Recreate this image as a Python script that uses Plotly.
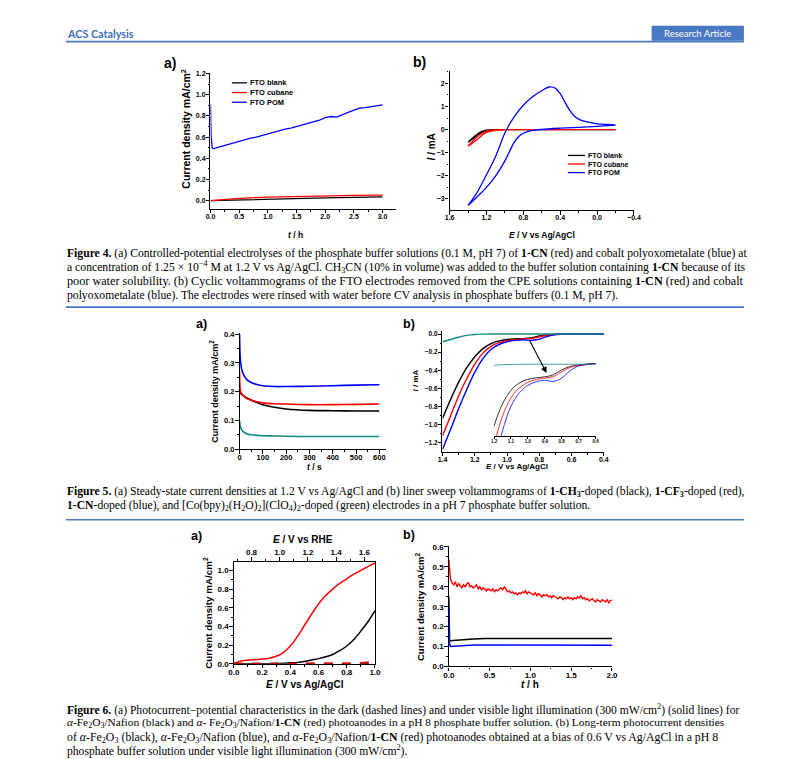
import numpy as np
import plotly.graph_objects as go

W, H = 810, 759

# ---------------- Figure 4a data ----------------
t4a_lin = [0.0, 0.5, 1.0, 1.5, 2.0, 2.5, 3.0]
fto_blank_4a = [0.0, 0.008, 0.015, 0.021, 0.027, 0.032, 0.037]
fto_cubane_4a = [0.0, 0.022, 0.034, 0.041, 0.046, 0.050, 0.053]
t4a_pom = [0.0, 0.01, 0.03, 0.06, 0.1, 0.2, 0.3, 0.4, 0.5, 0.6, 0.7, 0.8, 0.9, 1.0, 1.1, 1.2,
           1.3, 1.4, 1.5, 1.6, 1.7, 1.8, 1.9, 2.0, 2.1, 2.2, 2.3, 2.4, 2.5, 2.6, 2.7, 2.8, 2.9, 3.0]
fto_pom_4a = [0.91, 0.62, 0.50, 0.49, 0.50, 0.515, 0.53, 0.55, 0.565, 0.575, 0.59, 0.60, 0.615,
              0.635, 0.645, 0.66, 0.675, 0.685, 0.70, 0.715, 0.73, 0.745, 0.76, 0.785, 0.795,
              0.79, 0.815, 0.835, 0.855, 0.875, 0.88, 0.89, 0.895, 0.905]
legend_4 = ["FTO blank", "FTO cubane", "FTO POM"]

# ---------------- Figure 4b data (CV) ----------------
E4b_fwd = [-0.2, 0.0, 0.4, 0.8, 1.0, 1.1, 1.2, 1.25, 1.3, 1.35, 1.4]
E4b_rev = [1.4, 1.35, 1.3, 1.25, 1.2, 1.1, 1.0, 0.8, 0.4, 0.0, -0.2]
blank_4b_fwd = [0.0, 0.0, 0.0, 0.0, 0.0, 0.0, -0.02, -0.08, -0.2, -0.36, -0.55]
blank_4b_rev = [-0.55, -0.40, -0.25, -0.12, -0.04, -0.01, 0.0, 0.0, 0.0, 0.0, 0.0]
cubane_4b_fwd = [0.0, 0.0, 0.0, 0.0, 0.0, -0.01, -0.06, -0.16, -0.30, -0.50, -0.72]
cubane_4b_rev = [-0.72, -0.58, -0.42, -0.25, -0.12, -0.03, -0.005, 0.0, 0.0, 0.0, 0.0]
E4b_pom_fwd = [-0.2, 0.0, 0.2, 0.4, 0.6, 0.7, 0.75, 0.8, 0.85, 0.9, 0.95, 1.0, 1.1, 1.2, 1.3, 1.4]
pom_4b_fwd = [0.19, 0.14, 0.10, 0.06, 0.01, -0.03, -0.08, -0.16, -0.30, -0.55, -0.95, -1.35,
              -2.0, -2.5, -2.9, -3.28]
E4b_pom_rev = [1.4, 1.3, 1.2, 1.1, 1.0, 0.9, 0.8, 0.7, 0.6, 0.52, 0.45, 0.4, 0.35, 0.3, 0.25,
               0.2, 0.1, 0.0, -0.1, -0.2]
pom_4b_rev = [-3.28, -2.7, -1.95, -1.15, -0.15, 0.55, 1.05, 1.42, 1.68, 1.84, 1.78, 1.55, 1.2,
              0.85, 0.6, 0.45, 0.32, 0.25, 0.22, 0.2]

# ---------------- Figure 5a data ----------------
t5a = [0, 2, 5, 10, 20, 30, 50, 75, 100, 150, 200, 300, 400, 500, 600]
ch3_5a = [0.20, 0.197, 0.194, 0.19, 0.184, 0.179, 0.171, 0.162, 0.155, 0.146, 0.140, 0.135, 0.134, 0.133, 0.133]
cf3_5a = [0.27, 0.215, 0.20, 0.192, 0.183, 0.177, 0.170, 0.165, 0.161, 0.158, 0.157, 0.155, 0.155, 0.156, 0.157]
cn_5a = [0.40, 0.33, 0.30, 0.275, 0.255, 0.243, 0.232, 0.225, 0.221, 0.218, 0.218, 0.219, 0.221, 0.223, 0.224]
co_5a = [0.10, 0.085, 0.075, 0.066, 0.058, 0.054, 0.050, 0.048, 0.047, 0.046, 0.045, 0.044, 0.044, 0.044, 0.044]

# ---------------- Figure 5b data (LSV) ----------------
E5b = [1.40, 1.35, 1.30, 1.25, 1.20, 1.15, 1.10, 1.05, 1.00, 0.95, 0.90, 0.85, 0.80, 0.75,
       0.70, 0.65, 0.60, 0.50, 0.40]
ch3_5b = [-0.93, -0.72, -0.53, -0.37, -0.25, -0.16, -0.105, -0.075, -0.06, -0.054, -0.05,
          -0.042, -0.022, -0.008, -0.002, 0.002, 0.004, 0.004, 0.004]
cf3_5b = [-1.12, -0.90, -0.68, -0.49, -0.33, -0.21, -0.135, -0.095, -0.072, -0.061, -0.055,
          -0.049, -0.03, -0.012, -0.004, 0.0, 0.004, 0.004, 0.004]
cn_5b = [-1.27, -1.05, -0.82, -0.61, -0.42, -0.27, -0.17, -0.115, -0.085, -0.07, -0.064,
         -0.069, -0.055, -0.025, -0.006, 0.0, 0.004, 0.004, 0.004]
E5b_co = [1.40, 1.35, 1.30, 1.25, 1.20, 1.10, 0.40]
co_5b = [-0.085, -0.06, -0.035, -0.014, -0.004, 0.0, 0.0]

# ---------------- Figure 6a data ----------------
E6a = [0.0, 0.05, 0.1, 0.15, 0.2, 0.25, 0.3, 0.35, 0.4, 0.45, 0.5, 0.55, 0.6, 0.65, 0.7,
       0.75, 0.8, 0.85, 0.9, 0.95, 1.0]
cn_light_6a = [0.0, 0.03, 0.04, 0.045, 0.05, 0.06, 0.08, 0.12, 0.19, 0.29, 0.41, 0.53, 0.64,
               0.73, 0.80, 0.86, 0.91, 0.96, 1.00, 1.04, 1.08]
naf_light_6a = [0.0, 0.0, 0.0, 0.0, 0.0, 0.0, 0.002, 0.005, 0.01, 0.015, 0.025, 0.04, 0.055,
                0.075, 0.10, 0.14, 0.19, 0.26, 0.35, 0.45, 0.57]
cn_dark_6a = [0.0, 0.0, 0.0, 0.0, 0.0, 0.0, 0.0, 0.0, 0.0, 0.0, 0.0, 0.0, 0.0, 0.0, 0.0, 0.0,
              0.002, 0.005, 0.01, 0.02, 0.025]
naf_dark_6a = [0.002] * 21
rhe_offset = 0.675

# ---------------- Figure 6b data ----------------
t6b_red = np.linspace(0, 2, 101)
cn_6b = [0.54, 0.44, 0.42, 0.41, 0.425, 0.40, 0.415, 0.405, 0.395, 0.41, 0.40, 0.415, 0.42,
         0.40, 0.405, 0.395, 0.40, 0.41, 0.39, 0.40, 0.385, 0.395, 0.39, 0.38, 0.39, 0.385,
         0.38, 0.39, 0.375, 0.385, 0.38, 0.39, 0.395, 0.385, 0.40, 0.39, 0.375, 0.38, 0.37,
         0.375, 0.365, 0.37, 0.36, 0.37, 0.365, 0.375, 0.37, 0.38, 0.365, 0.375, 0.37, 0.365,
         0.36, 0.37, 0.355, 0.365, 0.36, 0.35, 0.36, 0.355, 0.36, 0.35, 0.355, 0.345, 0.355,
         0.35, 0.345, 0.34, 0.35, 0.345, 0.335, 0.345, 0.34, 0.35, 0.34, 0.345, 0.335, 0.345,
         0.34, 0.35, 0.345, 0.355, 0.34, 0.345, 0.335, 0.34, 0.33, 0.335, 0.34, 0.33, 0.325,
         0.335, 0.33, 0.325, 0.335, 0.33, 0.325, 0.335, 0.32, 0.33, 0.335]
t6b_blk = [0, 0.003, 0.01, 0.05, 0.1, 0.2, 0.3, 0.45, 0.6, 1.0, 1.5, 2.0]
fe_6b = [0.35, 0.2, 0.128, 0.13, 0.132, 0.135, 0.138, 0.14, 0.14, 0.14, 0.14, 0.14]
t6b_blu = [0, 0.005, 0.02, 0.1, 0.2, 0.3, 0.5, 1.0, 1.5, 2.0]
naf_6b = [0.30, 0.12, 0.10, 0.103, 0.106, 0.108, 0.108, 0.107, 0.107, 0.107]

# page-to-screenshot calibration (observed offset/scale of the rendered page)
AX_, SX_ = 15.8, 0.981
AY_, SY_ = 11.3, 0.99


def X(p):
    return (p - AX_) / SX_ / W


def Y(p):
    return 1 - (p - AY_) / SY_ / H


SANS = "Liberation Sans"
SERIF = "Liberation Serif"
BLUE_RULE = "#4a78c2"

fig = go.Figure()


def line(x, y, color, xa, ya, width=1.3, dash=None, shape="linear"):
    fig.add_trace(go.Scatter(x=x, y=y, mode="lines", xaxis=xa, yaxis=ya, showlegend=False,
                             hoverinfo="skip",
                             line=dict(color=color, width=width, dash=dash, shape=shape)))


# 4a
line(t4a_lin, fto_blank_4a, "black", "x", "y")
line(t4a_lin, fto_cubane_4a, "red", "x", "y")
line(t4a_pom, fto_pom_4a, "blue", "x", "y")
# 4b
line(E4b_fwd + E4b_rev, blank_4b_fwd + blank_4b_rev, "black", "x2", "y2", shape="spline")
line(E4b_fwd + E4b_rev, cubane_4b_fwd + cubane_4b_rev, "red", "x2", "y2", shape="spline")
line(E4b_pom_fwd + E4b_pom_rev, pom_4b_fwd + pom_4b_rev, "blue", "x2", "y2", shape="spline")
# 5a
line(t5a, ch3_5a, "black", "x3", "y3", 1.6, shape="spline")
line(t5a, cf3_5a, "red", "x3", "y3", 1.6, shape="spline")
line(t5a, cn_5a, "blue", "x3", "y3", 1.6, shape="spline")
line(t5a, co_5a, "#138a8a", "x3", "y3", 1.6, shape="spline")
# 5b main
line(E5b, ch3_5b, "black", "x4", "y4", 1.4, shape="spline")
line(E5b, cf3_5b, "red", "x4", "y4", 1.4, shape="spline")
line(E5b, cn_5b, "blue", "x4", "y4", 1.4, shape="spline")
line(E5b_co, co_5b, "#138a8a", "x4", "y4", 1.4, shape="spline")
# 5b inset
line(E5b, ch3_5b, "black", "x5", "y5", 0.8, shape="spline")
line(E5b, cf3_5b, "red", "x5", "y5", 0.8, shape="spline")
line(E5b, cn_5b, "blue", "x5", "y5", 0.8, shape="spline")
line(E5b_co, co_5b, "#138a8a", "x5", "y5", 0.8, shape="spline")
# 6a
line(E6a, naf_light_6a, "black", "x6", "y6", 1.5, shape="spline")
line(E6a, cn_light_6a, "red", "x6", "y6", 1.5, shape="spline")
line(E6a, naf_dark_6a, "black", "x6", "y6", 1.5, dash="dash")
line(E6a, cn_dark_6a, "red", "x6", "y6", 1.8, dash="dash")
fig.add_trace(go.Scatter(x=[e + rhe_offset for e in E6a], y=cn_light_6a, mode="lines",
                         xaxis="x7", yaxis="y6", opacity=0, showlegend=False, hoverinfo="skip"))
# 6b
line(t6b_red, cn_6b, "red", "x8", "y8", 1.4)
line(t6b_blk, fe_6b, "black", "x8", "y8", 1.5)
line(t6b_blu, naf_6b, "blue", "x8", "y8", 1.5)


def ax(l, r, rng, anchor, dtick, mdtick=None, fmt=".1f", fs=7, lw=1.1, tl=3.5, so=-3, **kw):
    d = dict(domain=[X(l), X(r)], range=rng, anchor=anchor, dtick=dtick, tickformat=fmt,
             showline=True, linecolor="black", linewidth=lw, ticks="outside", ticklen=tl,
             tickwidth=1, tickcolor="black", showgrid=False, zeroline=False,
             ticklabelstandoff=so,
             tickfont=dict(family=SANS, size=fs, color="black", weight="bold"))
    if mdtick:
        d["minor"] = dict(dtick=mdtick, ticks="outside", ticklen=tl * 0.55, tickcolor="black",
                          tickwidth=1, showgrid=False)
    d.update(kw)
    return d


def ay(t, b, rng, anchor, dtick, mdtick=None, fmt=".1f", fs=7, lw=1.1, tl=3.5, so=-1, **kw):
    d = ax(0, 1, rng, anchor, dtick, mdtick, fmt, fs, lw, tl, so, **kw)
    d["domain"] = [Y(b), Y(t)]
    return d


fig.update_layout(
    width=W, height=H, margin=dict(l=0, r=0, t=0, b=0),
    paper_bgcolor="white", plot_bgcolor="rgba(0,0,0,0)", showlegend=False,
    xaxis=ax(211.7, 397, [0, 3.24], "y", 0.5, 0.25, fs=7),
    yaxis=ay(72, 208.3, [-0.075, 1.21], "x", 0.2, 0.1, fs=7),
    xaxis2=ax(450, 634, [1.601, -0.401], "y2", 0.4, 0.2, fs=7),
    yaxis2=ay(70.7, 210, [-3.49, 2.52], "x2", 1, 0.5, fmt="d", fs=7),
    xaxis3=ax(240.7, 387, [0, 630], "y3", 100, 50, fmt="d", fs=7.5),
    yaxis3=ay(333, 449.3, [0, 0.404], "x3", 0.1, 0.05, fs=7.5),
    xaxis4=ax(443, 604, [1.4005, 0.3995], "y4", 0.2, 0.1, fs=7),
    yaxis4=ay(330.7, 451.7, [-1.295, 0.036], "x4", 0.2, 0.1, fs=6.5),
    xaxis5=ax(494.3, 595.7, [1.2005, 0.5995], "y5", 0.1, None, fs=4.5, lw=0.8, tl=2, so=-1),
    yaxis5=dict(domain=[Y(436), Y(361.5)], range=[-0.29, 0.012], anchor="x5", visible=False),
    xaxis6=ax(235, 375.7, [0, 1.0], "y6", 0.2, 0.1, fs=8, mirror=True),
    yaxis6=ay(562.3, 664.3, [0, 1.09], "x6", 0.2, 0.1, fs=8, mirror=True),
    xaxis7=ax(235, 375.7, [rhe_offset, 1 + rhe_offset], "y6", 0.2, 0.1, fs=8,
              overlaying="x6", side="top", tick0=0, so=-1),
    xaxis8=ax(449.3, 612, [0, 2.0], "y8", 0.5, 0.25, fs=8),
    yaxis8=ay(546.7, 667, [0, 0.603], "x8", 0.1, 0.05, fs=8),
)

ann = []


def txt(x, y, s, size, family=SANS, weight="bold", color="black", xa="center", ya="middle",
        angle=0):
    ann.append(dict(x=X(x), y=Y(y), xref="paper", yref="paper", text=s, showarrow=False,
                    xanchor=xa, yanchor=ya, textangle=angle, borderpad=0,
                    font=dict(family=family, size=size, color=color, weight=weight)))


shapes = []


def rule(x0, x1, y, color=BLUE_RULE, w=1.6):
    shapes.append(dict(type="line", xref="paper", yref="paper", x0=X(x0), x1=X(x1),
                       y0=Y(y), y1=Y(y), line=dict(color=color, width=w)))


# header
txt(67.5, 33, "ACS Catalysis", 10.8, family="Lato", weight="bold", color="#3f6fba", xa="left")
shapes.append(dict(type="rect", xref="paper", yref="paper", x0=X(651.5), x1=X(743.5),
                   y0=Y(40), y1=Y(25), fillcolor="#4a78c2", line=dict(width=0)))
txt(697.5, 32.5, "Research Article", 9.5, family="Lato", weight="normal", color="white")
rule(67.5, 743.5, 41)


# legends (manual, compact)
def legend(x0, y0, dy, length, labels, colors, size):
    for i, (lab, c) in enumerate(zip(labels, colors)):
        yy = y0 + i * dy
        shapes.append(dict(type="line", xref="paper", yref="paper", x0=X(x0), x1=X(x0 + length),
                           y0=Y(yy), y1=Y(yy), line=dict(color=c, width=1.3)))
        txt(x0 + length + 2.5, yy, lab, size, xa="left")


legend(233, 82.3, 9.7, 15, legend_4, ["black", "red", "blue"], 7.5)
legend(568, 155, 8.6, 17, legend_4, ["black", "red", "blue"], 7)

# panel labels
txt(171.5, 62, "a)", 14)
txt(420, 61, "b)", 14)
txt(203, 324, "a)", 12.5)
txt(410, 324, "b)", 12.5)
txt(198, 536, "a)", 12.5)
txt(410, 535, "b)", 12.5)

# axis titles
cd = "Current density mA/cm<sup>2</sup>"
txt(186.5, 128, cd, 10.5, angle=-90)
txt(296, 234.5, "<i>t</i> / h", 8.5)
txt(432, 146.5, "<i>I</i> / mA", 10, angle=-90)
txt(542, 234.5, "<i>E</i> / V vs Ag/AgCl", 8.5)
txt(215, 391, cd, 9, angle=-90)
txt(315, 467, "<i>t</i> / s", 8.5)
txt(416, 380, "<i>I</i> / mA", 8, angle=-90)
txt(517, 467, "<i>E</i> / V vs Ag/AgCl", 8)
txt(208.5, 613, cd, 9.8, angle=-90)
txt(305.5, 685.5, "<i>E</i> / V vs Ag/AgCl", 10)
txt(304, 540, "<i>E</i> / V vs RHE", 10)
txt(420.5, 606.5, cd, 9.5, angle=-90)
txt(530.5, 685.5, "<i>t</i> / h", 10)

# arrow in 5b
ann.append(dict(x=0.755, y=-0.43, ax=0.865, ay=-0.055, xref="x4", yref="y4", axref="x4",
                ayref="y4", text="", showarrow=True, arrowhead=2, arrowsize=1.1,
                arrowwidth=1.1, arrowcolor="black"))

# captions (per-line font size approximates the justified column)
cap4 = [
    "<b>Figure 4.</b> (a) Controlled-potential electrolyses of the phosphate buffer solutions (0.1 M, pH 7) of <b>1-CN</b> (red) and cobalt polyoxometalate (blue) at",
    "a concentration of 1.25 × 10<sup>−4</sup> M at 1.2 V vs Ag/AgCl. CH<sub>3</sub>CN (10% in volume) was added to the buffer solution containing <b>1-CN</b> because of its",
    "poor water solubility. (b) Cyclic voltammograms of the FTO electrodes removed from the CPE solutions containing <b>1-CN</b> (red) and cobalt",
    "polyoxometalate (blue). The electrodes were rinsed with water before CV analysis in phosphate buffers (0.1 M, pH 7).",
]
cap5 = [
    "<b>Figure 5.</b> (a) Steady-state current densities at 1.2 V vs Ag/AgCl and (b) liner sweep voltammograms of <b>1-CH<sub>3</sub></b>-doped (black), <b>1-CF<sub>3</sub></b>-doped (red),",
    "<b>1-CN</b>-doped (blue), and [Co(bpy)<sub>2</sub>(H<sub>2</sub>O)<sub>2</sub>](ClO<sub>4</sub>)<sub>2</sub>-doped (green) electrodes in a pH 7 phosphate buffer solution.",
]
cap6 = [
    "<b>Figure 6.</b> (a) Photocurrent−potential characteristics in the dark (dashed lines) and under visible light illumination (300 mW/cm<sup>2</sup>) (solid lines) for",
    "<i>α</i>-Fe<sub>2</sub>O<sub>3</sub>/Nafion (black) and <i>α</i>- Fe<sub>2</sub>O<sub>3</sub>/Nafion/<b>1-CN</b> (red) photoanodes in a pH 8 phosphate buffer solution. (b) Long-term photocurrent densities",
    "of <i>α</i>-Fe<sub>2</sub>O<sub>3</sub> (black), <i>α</i>-Fe<sub>2</sub>O<sub>3</sub>/Nafion (blue), and <i>α</i>-Fe<sub>2</sub>O<sub>3</sub>/Nafion/<b>1-CN</b> (red) photoanodes obtained at a bias of 0.6 V vs Ag/AgCl in a pH 8",
    "phosphate buffer solution under visible light illumination (300 mW/cm<sup>2</sup>).",
]
size4 = [11.65, 11.7, 12.2, 11.65]
size5 = [11.62, 11.65]
size6 = [11.6, 11.4, 11.8, 11.6]
CAPX = 68
for i, s in enumerate(cap4):
    txt(CAPX, 253 + 14 * i, s, size4[i], family=SERIF, weight="normal", xa="left")
for i, s in enumerate(cap5):
    txt(CAPX, 492 + 14 * i, s, size5[i], family=SERIF, weight="normal", xa="left")
for i, s in enumerate(cap6):
    txt(CAPX, 710.5 + 13.6 * i, s, size6[i], family=SERIF, weight="normal", xa="left")

rule(67.5, 743.5, 307)
rule(67.5, 743.5, 520)

fig.update_layout(annotations=ann, shapes=shapes)
fig.write_html("out.html")
